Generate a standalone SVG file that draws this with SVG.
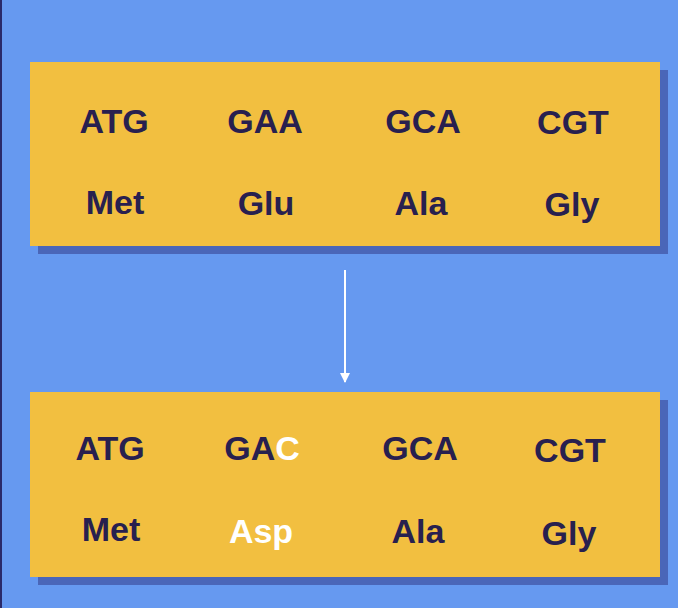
<svg xmlns="http://www.w3.org/2000/svg" width="678" height="608" viewBox="0 0 678 608">
<style>
.box{fill:#F2BF40}
.sh{fill:#4A66B8}
.t{font-family:"Liberation Sans",Arial,sans-serif;font-weight:bold;font-size:34px;fill:#28204F;text-anchor:middle}
.w{fill:#FFFFFF}
</style>
<defs><marker id="ah" viewBox="0 0 10 10" refX="9" refY="5" markerWidth="5" markerHeight="5" orient="auto"><path d="M0,0L10,5L0,10z" fill="#fff"/></marker></defs>
<rect width="678" height="608" fill="#6699F0"/>
<rect x="0" y="0" width="2" height="608" fill="#2A2A6A"/>
<g id="top">
<rect class="sh" x="38" y="70" width="630" height="184"/>
<rect class="box" x="30" y="62" width="630" height="184"/>
<text class="t" x="114" y="133">ATG</text><text class="t" x="265" y="133">GAA</text><text class="t" x="423" y="133">GCA</text><text class="t" x="573" y="134">CGT</text>
<text class="t" x="115" y="214">Met</text><text class="t" x="266" y="215">Glu</text><text class="t" x="421" y="215">Ala</text><text class="t" x="572" y="216">Gly</text>
</g>
<g id="bottom">
<rect class="sh" x="38" y="400" width="630" height="185"/>
<rect class="box" x="30" y="392" width="630" height="185"/>
<text class="t" x="110" y="460">ATG</text><text class="t" x="262" y="460">GA<tspan class="w">C</tspan></text><text class="t" x="420" y="460">GCA</text><text class="t" x="570" y="462">CGT</text>
<text class="t" x="111" y="541">Met</text><text class="t w" x="261" y="543">Asp</text><text class="t" x="418" y="543">Ala</text><text class="t" x="569" y="545">Gly</text>
</g>
<g id="connectors">
<line x1="345" y1="270" x2="345" y2="382" stroke="#fff" stroke-width="2" marker-end="url(#ah)"/>
</g>
</svg>
